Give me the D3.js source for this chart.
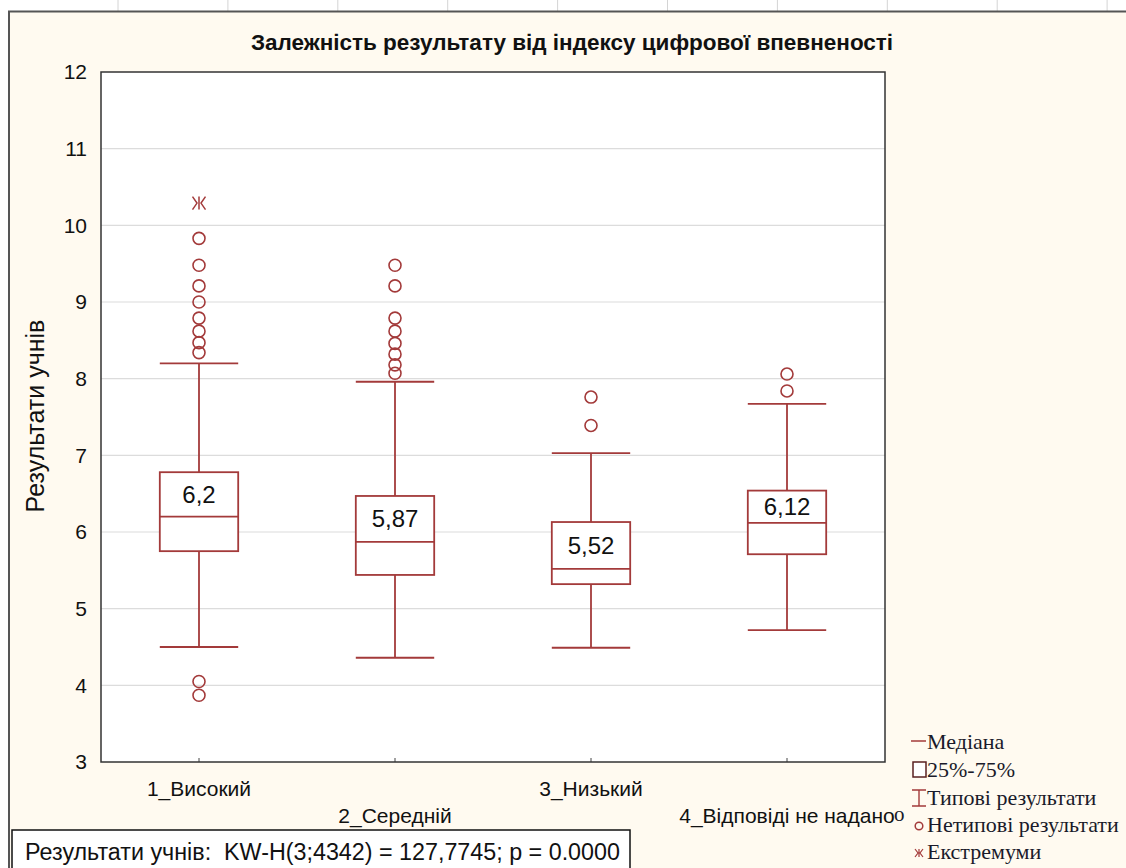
<!DOCTYPE html>
<html>
<head>
<meta charset="utf-8">
<script src="https://cdn.jsdelivr.net/npm/d3@7"></script>
<style>
  html, body { margin: 0; padding: 0; background: #fffaf0; }
  svg { display: block; }
  text { white-space: pre; }
</style>
</head>
<body>
<svg id="chart" width="1126" height="868"></svg>
<script>
// Box-plot summaries per group
const categories = ["1_Високий", "2_Середній", "3_Низький", "4_Відповіді не надано"];
const medians   = [6.20, 5.87, 5.52, 6.12];
const q1        = [5.75, 5.44, 5.32, 5.71];
const q3        = [6.78, 6.47, 6.13, 6.54];
const whiskerLo = [4.50, 4.36, 4.49, 4.72];
const whiskerHi = [8.20, 7.96, 7.03, 7.67];
const outliers  = [
  [9.83, 9.48, 9.21, 9.00, 8.79, 8.62, 8.47, 8.34, 4.05, 3.87],
  [9.48, 9.21, 8.79, 8.62, 8.46, 8.32, 8.18, 8.07],
  [7.76, 7.39],
  [8.06, 7.84]
];
const extremes  = [[10.29], [], [], []];
const medianLabels = ["6,2", "5,87", "5,52", "6,12"];
const yTicks = [3, 4, 5, 6, 7, 8, 9, 10, 11, 12];

const titleText = "Залежність результату від індексу цифрової впевненості";
const yTitle = "Результати учнів";
const statText = "Результати учнів:  KW-H(3;4342) = 127,7745; p = 0.0000";
const legendItems = ["Медіана", "25%-75%", "Типові результати", "Нетипові результати", "Екстремуми"];

const RED = "#a33a3a";
const SANS = "Arial, 'Liberation Sans', sans-serif";
const svg = d3.select("#chart");
const W = 1126, H = 868;
const plot = { left: 101, top: 72, right: 885, bottom: 762 };

// workbook strip above the graph window
svg.append("rect").attr("x", 0).attr("y", 0).attr("width", W).attr("height", 11).attr("fill", "#ffffff");
svg.append("rect").attr("x", 0).attr("y", 0).attr("width", 8).attr("height", H).attr("fill", "#ffffff");
const stripX = d3.range(10).map(i => 118 + i * 109.9);
svg.selectAll("line.strip").data(stripX).enter().append("line")
  .attr("x1", d => d).attr("x2", d => d).attr("y1", 0).attr("y2", 11)
  .attr("stroke", "#d4d4d4").attr("stroke-width", 1);
svg.append("line").attr("x1", 8).attr("x2", W).attr("y1", 11.5).attr("y2", 11.5)
  .attr("stroke", "#555").attr("stroke-width", 2);
svg.append("line").attr("x1", 9).attr("x2", 9).attr("y1", 11).attr("y2", H)
  .attr("stroke", "#555").attr("stroke-width", 2);

// title
svg.append("text").attr("x", 572).attr("y", 50).attr("text-anchor", "middle")
  .attr("font-family", SANS).attr("font-weight", "bold")
  .attr("font-size", 22.5).attr("fill", "#111").text(titleText);

// scales
const x = d3.scaleBand().domain(categories).range([plot.left, plot.right]).paddingInner(0).paddingOuter(0);
const y = d3.scaleLinear().domain([3, 12]).range([plot.bottom, plot.top]);
const cx = c => x(c) + x.bandwidth() / 2;
const boxW = x.bandwidth() * 0.4;
const capW = boxW / 2;

// plot background
svg.append("rect").attr("x", plot.left).attr("y", plot.top)
  .attr("width", plot.right - plot.left).attr("height", plot.bottom - plot.top)
  .attr("fill", "#ffffff");

// grid lines
svg.append("g").selectAll("line").data(yTicks.slice(1, -1)).enter().append("line")
  .attr("x1", plot.left).attr("x2", plot.right)
  .attr("y1", d => y(d)).attr("y2", d => y(d))
  .attr("stroke", "#dcdcdc").attr("stroke-width", 1.2);

// y axis
const yAxis = svg.append("g").attr("transform", `translate(${plot.left},0)`)
  .call(d3.axisLeft(y).tickValues(yTicks).tickSize(0).tickPadding(14).tickFormat(d3.format("d")));
yAxis.select(".domain").remove();
yAxis.selectAll("text").attr("font-family", SANS)
  .attr("font-size", 21).attr("fill", "#111");

// x axis with inward ticks and staggered labels
const xAxis = svg.append("g").attr("transform", `translate(0,${plot.bottom})`)
  .call(d3.axisBottom(x).tickSize(-4).tickFormat(""));
xAxis.select(".domain").remove();
xAxis.selectAll(".tick line").attr("stroke", "#444");
svg.append("g").selectAll("text").data(categories).enter().append("text")
  .attr("x", d => cx(d)).attr("y", (d, i) => i % 2 === 0 ? 796 : 823)
  .attr("text-anchor", "middle")
  .attr("font-family", SANS)
  .attr("font-size", 21).attr("fill", "#111").text(d => d);

// plot frame
svg.append("rect").attr("x", plot.left).attr("y", plot.top)
  .attr("width", plot.right - plot.left).attr("height", plot.bottom - plot.top)
  .attr("fill", "none").attr("stroke", "#333").attr("stroke-width", 1.5);

// y title
svg.append("text").attr("transform", `translate(44,416) rotate(-90)`)
  .attr("text-anchor", "middle").attr("font-family", SANS)
  .attr("font-size", 25).attr("fill", "#111").text(yTitle);

// boxes
const g = svg.append("g");
categories.forEach((c, i) => {
  const xc = cx(c);
  const gg = g.append("g").attr("stroke", RED).attr("stroke-width", 1.8).attr("fill", "none");
  // whiskers
  gg.append("line").attr("x1", xc).attr("x2", xc).attr("y1", y(q3[i])).attr("y2", y(whiskerHi[i]));
  gg.append("line").attr("x1", xc).attr("x2", xc).attr("y1", y(q1[i])).attr("y2", y(whiskerLo[i]));
  gg.append("line").attr("x1", xc - capW).attr("x2", xc + capW).attr("y1", y(whiskerHi[i])).attr("y2", y(whiskerHi[i]));
  gg.append("line").attr("x1", xc - capW).attr("x2", xc + capW).attr("y1", y(whiskerLo[i])).attr("y2", y(whiskerLo[i]));
  // box
  gg.append("rect").attr("x", xc - boxW / 2).attr("y", y(q3[i]))
    .attr("width", boxW).attr("height", y(q1[i]) - y(q3[i])).attr("fill", "#ffffff");
  gg.append("line").attr("x1", xc - boxW / 2).attr("x2", xc + boxW / 2)
    .attr("y1", y(medians[i])).attr("y2", y(medians[i]));
  // outliers
  gg.selectAll("circle").data(outliers[i]).enter().append("circle")
    .attr("cx", xc).attr("cy", d => y(d)).attr("r", 6).attr("stroke-width", 1.6);
  // extremes
  extremes[i].forEach(v => {
    const yy = y(v), s = 6.5;
    gg.append("path").attr("stroke-width", 1.5)
      .attr("d", `M${xc},${yy - s}V${yy + s}M${xc - s},${yy - s}L${xc - 2},${yy}L${xc - s},${yy + s}M${xc + s},${yy - s}L${xc + 2},${yy}L${xc + s},${yy + s}`);
  });
  // median value label
  g.append("text").attr("x", xc).attr("y", (y(q3[i]) + y(medians[i])) / 2 + 8.5)
    .attr("text-anchor", "middle").attr("font-family", SANS)
    .attr("font-size", 24).attr("fill", "#111").text(medianLabels[i]);
});

// legend
const lg = svg.append("g").attr("font-family", "'Liberation Serif', 'Times New Roman', serif")
  .attr("font-size", 22).attr("fill", "#1a1a2a");
const ly = [742, 770, 798, 825, 852];
const lx = 927;
legendItems.forEach((t, i) => {
  lg.append("text").attr("x", lx).attr("y", ly[i] + 7).text(t);
});
// legend symbols
lg.append("line").attr("x1", 911).attr("x2", 926).attr("y1", ly[0] - 1).attr("y2", ly[0] - 1)
  .attr("stroke", RED).attr("stroke-width", 1.5);
lg.append("rect").attr("x", 913).attr("y", ly[1] - 8).attr("width", 13).attr("height", 15)
  .attr("fill", "#fff").attr("stroke", "#5a2020").attr("stroke-width", 1.5);
lg.append("path").attr("d", `M912,${ly[2] - 8}H926M919,${ly[2] - 8}V${ly[2] + 8}M912,${ly[2] + 8}H926`)
  .attr("stroke", RED).attr("stroke-width", 1.4).attr("fill", "none");
lg.append("circle").attr("cx", 919).attr("cy", ly[3] + 1).attr("r", 3.8)
  .attr("stroke", RED).attr("stroke-width", 1.5).attr("fill", "none");
{
  const ex = 919, ey = ly[4] + 1, s = 4;
  lg.append("path").attr("d", `M${ex},${ey - s}V${ey + s}M${ex - s},${ey - s}L${ex - 1},${ey}L${ex - s},${ey + s}M${ex + s},${ey - s}L${ex + 1},${ey}L${ex + s},${ey + s}`)
    .attr("stroke", RED).attr("stroke-width", 1.2).attr("fill", "none");
}
lg.append("text").attr("x", 894).attr("y", 821).attr("font-size", 21).text("o");

// test statistic box
svg.append("rect").attr("x", 12).attr("y", 830).attr("width", 618).attr("height", 45)
  .attr("fill", "#ffffff").attr("stroke", "#111").attr("stroke-width", 1.5);
svg.append("text").attr("x", 25).attr("y", 860)
  .attr("font-family", SANS)
  .attr("font-size", 23.3).attr("fill", "#111").text(statText);
</script>
</body>
</html>
